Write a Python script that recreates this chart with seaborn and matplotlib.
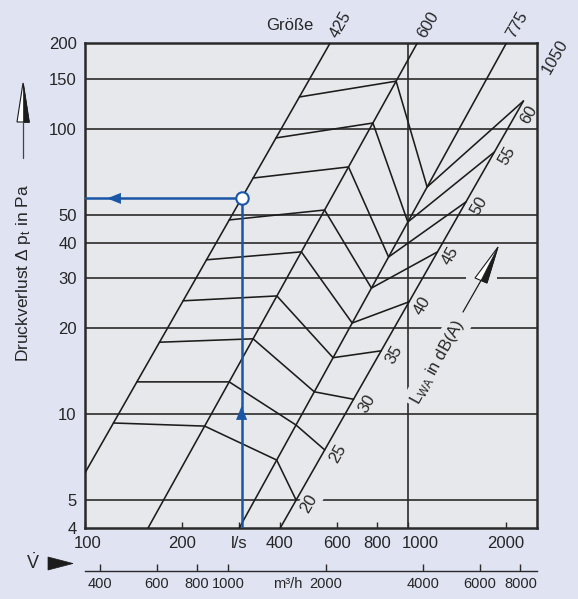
import numpy as np
import pandas as pd
import matplotlib
matplotlib.use("Agg")
import matplotlib.pyplot as plt
import matplotlib.transforms as mtransforms
from matplotlib.patches import Polygon, Rectangle
from matplotlib.ticker import NullLocator
import seaborn as sns

# ── axis ticks ─────────────────────────────────────────────
ls_ticks = [100, 200, 300, 400, 600, 800, 1000, 2000]
ls_labels = ["100", "200", "l/s", "400", "600", "800", "1000", "2000"]
m3h_ticks = [400, 600, 800, 1000, 1530, 2000, 4000, 6000, 8000]
m3h_labels = ["400", "600", "800", "1000", "m³/h", "2000", "4000", "6000", "8000"]
dp_ticks = [4, 5, 10, 20, 30, 40, 50, 100, 150, 200]
dp_tick_labels = ["4", "5", "10", "20", "30", "40", "50", "100", "150", "200"]
dp_grid = [5, 10, 20, 30, 40, 50, 100, 150]
v_grid = [1000]

# ── size lines (Größe): start and end point of each ────────
sizes = ["425", "600", "775", "1050"]
size_v0 = [100, 156.7, 300, 401.6]
size_dp0 = [6.24, 4, 4, 4]
size_v1 = [573, 1066, 2011, 2270]
size_dp1 = [200, 200, 200, 125.3]

# ── L_WA contours: pressure where each crosses a size line ─
lwa = [20, 25, 30, 35, 40, 45, 50, 55, 60]
dp_425 = [9.33, 13.0, 17.9, 25.0, 34.8, 48.0, 67.3, 93.0, 129.4]
dp_600 = [9.1, 13.0, 18.4, 26.0, 37.1, 52.0, 73.6, 104.9, 147]
dp_775 = [6.92, 9.18, 12.0, 15.8, 20.9, 27.7, 35.6, 47.2, 62.6]
dp_1050 = [5.01, 7.51, 11.3, 16.7, 24.8, 37.1, 55.5, 83.0, 125.3]

# ── worked example ────────────────────────────────────────
v_example = 305
dp_example = 57.1

BG = "#DFE3F2"
PANEL = "#E7E8EB"
INK = "#1c1c1c"
BLUE = "#1a56a6"
W, H = 578, 599

sns.set_theme(style="white")
plt.rcParams["font.family"] = ["Liberation Sans", "DejaVu Sans"]
plt.rcParams["mathtext.fontset"] = "custom"
plt.rcParams["mathtext.rm"] = "Liberation Sans"
plt.rcParams["mathtext.it"] = "Liberation Sans:italic"


def v_on(i, dp):
    """flow where size line i reaches pressure dp (straight line in log-log)"""
    lv0, lv1 = np.log10(size_v0[i]), np.log10(size_v1[i])
    lp0, lp1 = np.log10(size_dp0[i]), np.log10(size_dp1[i])
    t = (np.log10(dp) - lp0) / (lp1 - lp0)
    return 10 ** (lv0 + t * (lv1 - lv0))


rows = []
for i, s in enumerate(sizes):
    rows.append((f"size {s}", size_v0[i], size_dp0[i]))
    rows.append((f"size {s}", size_v1[i], size_dp1[i]))
crossings = [dp_425, dp_600, dp_775, dp_1050]
for k, level in enumerate(lwa):
    for i in range(len(sizes)):
        dp = crossings[i][k]
        rows.append((f"{level} dB", v_on(i, dp), dp))
lines = pd.DataFrame(rows, columns=["line", "V", "dp"])

example = pd.DataFrame({"V": [v_example, v_example, 100],
                        "dp": [4, dp_example, dp_example]})

fig = plt.figure(figsize=(W / 100, H / 100), dpi=100, facecolor=BG)
ax = fig.add_axes([85 / W, 71 / H, 452 / W, 485 / H])
ax.set_facecolor(PANEL)
ax.set_xscale("log")
ax.set_yscale("log")
ax.set_xlim(100, 2500)
ax.set_ylim(4, 200)

# reference-pixel transform for the loose decorations
px = mtransforms.Affine2D().scale(1 / W, -1 / H).translate(0, 1) + fig.transFigure

# grid
for dp in dp_grid:
    ax.axhline(dp, color="#2b2b2b", lw=1.2, zorder=1)
for v in v_grid:
    ax.axvline(v, color="#2b2b2b", lw=1.2, zorder=1)

# nomogram lines
sns.lineplot(data=lines, x="V", y="dp", units="line", estimator=None, sort=False,
             color=INK, lw=1.15, ax=ax, zorder=3)

# example path
sns.lineplot(data=example, x="V", y="dp", estimator=None, sort=False,
             color=BLUE, lw=1.8, ax=ax, zorder=4)
ax.annotate("", xy=(117, dp_example), xytext=(13, 0), textcoords="offset pixels",
            arrowprops=dict(arrowstyle="-|>,head_length=1.0,head_width=0.4",
                            color=BLUE, lw=0, shrinkA=0, shrinkB=0, mutation_scale=10),
            zorder=4)
ax.annotate("", xy=(v_example, 10.7), xytext=(0, -13), textcoords="offset pixels",
            arrowprops=dict(arrowstyle="-|>,head_length=1.0,head_width=0.4",
                            color=BLUE, lw=0, shrinkA=0, shrinkB=0, mutation_scale=10),
            zorder=4)
sns.scatterplot(x=[v_example], y=[dp_example], s=80, color="white",
                edgecolor=BLUE, linewidth=1.5, zorder=5, ax=ax)

# size labels
for i, s in enumerate(sizes[:3]):
    ax.annotate(s, xy=(size_v1[i], size_dp1[i]), xytext=(11, 18),
                textcoords="offset pixels", rotation=60, ha="center", va="center",
                fontsize=12, annotation_clip=False)
ax.annotate(sizes[3], xy=(2500, 200), xytext=(18, -14), textcoords="offset pixels",
            rotation=60, ha="center", va="center", fontsize=12, annotation_clip=False)
ax.text(290, 26, "Größe", transform=px, ha="center", va="center", fontsize=12)

# L_WA labels along the 1050 line
for k, level in enumerate(lwa):
    off = (13, -4) if level < 60 else (5, -14)
    kw = {}
    if level == 20:
        kw["bbox"] = dict(boxstyle="square,pad=0.15", fc=PANEL, ec="none")
    ax.annotate(str(level), xy=(v_on(3, dp_1050[k]), dp_1050[k]), xytext=off,
                textcoords="offset pixels", rotation=60, ha="center", va="center",
                fontsize=12, zorder=2, **kw)

ax.text(1230, 15.3, r"$\mathrm{L}_{\mathrm{WA}}$ in dB(A)", rotation=61,
        ha="center", va="center", fontsize=12, zorder=2,
        bbox=dict(boxstyle="square,pad=0.2", fc=PANEL, ec="none"))

# arrow next to the L_WA label
ax.add_patch(Rectangle((466, 275), 31, 6, transform=px, fc=PANEL, ec="none", zorder=2))
ax.plot([481, 463], [280.5, 312], transform=px, color=INK, lw=0.9, zorder=3)
ax.add_patch(Polygon([(498, 247), (475, 278), (487, 283)], closed=True, transform=px,
                     fc="white", ec=INK, lw=0.8, zorder=3))
ax.add_patch(Polygon([(498, 247), (481, 280.5), (487, 283)], closed=True, transform=px,
                     fc=INK, ec=INK, lw=0.5, zorder=3))

# axes styling
for sp in ax.spines.values():
    sp.set_linewidth(1.8)
    sp.set_color("#2a2a2a")
ax.set_xticks(ls_ticks, labels=ls_labels)
ax.set_yticks(dp_ticks, labels=dp_tick_labels)
ax.xaxis.set_minor_locator(NullLocator())
ax.yaxis.set_minor_locator(NullLocator())
ax.tick_params(axis="x", direction="in", length=4, width=1, color="#2a2a2a",
               labelsize=12, pad=6, bottom=True)
ax.tick_params(axis="y", length=0, labelsize=12, pad=6)
ax.set_xlabel("")
ax.set_ylabel("")

# nudge crowded tick labels to the right
nudge = {"100": 3, "1000": 12}
for lab in ax.xaxis.get_majorticklabels():
    if lab.get_text() in nudge:
        off = mtransforms.ScaledTranslation(nudge[lab.get_text()] / 100, 0,
                                            fig.dpi_scale_trans)
        lab.set_transform(lab.get_transform() + off)

# second flow scale in m³/h
sec = ax.secondary_xaxis(-43 / 485, functions=(lambda v: v * 3.6, lambda q: q / 3.6))
sec.set_xticks(m3h_ticks, labels=m3h_labels)
sec.xaxis.set_minor_locator(NullLocator())
sec.tick_params(direction="in", length=5, width=1, labelsize=10.5, pad=4,
                color="#2a2a2a")
sec.spines["bottom"].set_linewidth(1.0)
sec.spines["bottom"].set_color("#2a2a2a")
sec.xaxis.get_major_ticks()[m3h_labels.index("m³/h")].tick1line.set_visible(False)

# y label with arrow
ax.text(24, 273, r"Druckverlust Δ p$_\mathrm{t}$ in Pa", transform=px, rotation=90,
        ha="center", va="center", fontsize=12.5)
ax.plot([23, 23], [122, 158], transform=px, color="#444444", lw=0.9, clip_on=False)
ax.add_patch(Polygon([(23, 83), (17, 122), (29, 122)], closed=True, transform=px,
                     fc="white", ec=INK, lw=0.8, clip_on=False))
ax.add_patch(Polygon([(23, 83), (23, 122), (29, 122)], closed=True, transform=px,
                     fc=INK, ec=INK, lw=0.5, clip_on=False))

# flow symbol with arrow
ax.text(33, 563, r"$\dot{\mathrm{V}}$", transform=px, ha="center", va="center",
        fontsize=13)
ax.add_patch(Polygon([(48, 557), (48, 570), (73, 563.5)], closed=True, transform=px,
                     fc=INK, ec=INK, lw=0.5, clip_on=False))

fig.savefig("out.png", dpi=100, facecolor=BG)
print("saved out.png")
